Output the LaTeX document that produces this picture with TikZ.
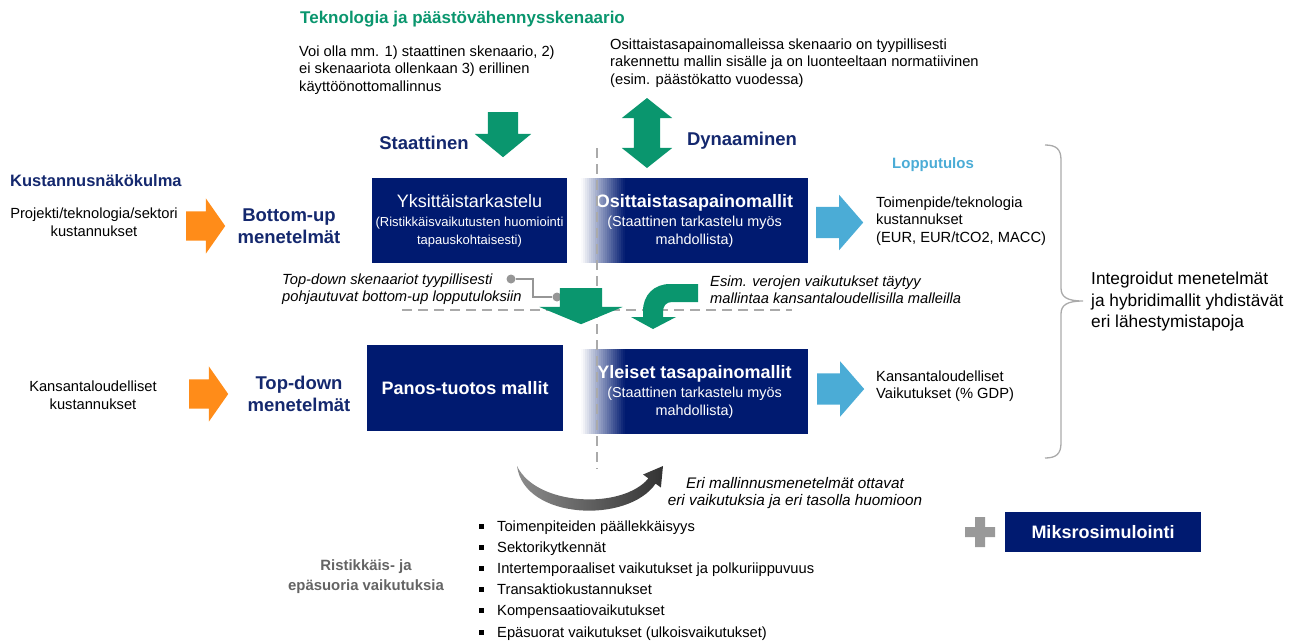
\documentclass[tikz,border=0pt]{standalone}
\usepackage{fontspec}
\setmainfont{Liberation Sans}
\usetikzlibrary{shapes.arrows}
\definecolor{navy}{RGB}{0,26,112}
\definecolor{tnavy}{RGB}{20,40,110}
\definecolor{sgreen}{RGB}{10,150,110}
\definecolor{sorange}{RGB}{255,140,25}
\definecolor{sblue}{RGB}{75,172,214}
\definecolor{dashgray}{RGB}{170,170,170}
\definecolor{knobgray}{RGB}{150,150,150}
\definecolor{txtgray}{RGB}{100,100,100}
\begin{document}
\begin{tikzpicture}[x=1pt,y=-1pt,inner sep=0pt,
  txt/.style={font=\fontsize{14.7}{17.6}\selectfont,align=left},
  ctxt/.style={font=\fontsize{14.7}{18.5}\selectfont,align=center},
  itxt/.style={font=\fontsize{14.7}{17}\selectfont\itshape,align=left},
  methodhead/.style={font=\fontsize{18.5}{22}\selectfont\bfseries,text=tnavy,align=center},
  mbox/.style={fill=navy,text=white,align=center,font=\fontsize{14.4}{17.5}\selectfont},
  fadebox/.style={mbox,path picture={\foreach \s in {0,...,21}{\pgfmathtruncatemacro\p{100*(\s+0.5)/22}
    \fill[navy!\p!white] ([xshift=2*\s pt]path picture bounding box.north west) rectangle ([xshift=2*\s pt+2.2pt]path picture bounding box.south west);}}},
  harrow/.style={single arrow,single arrow head indent=0pt,inner sep=0pt,anchor=tail},
  knob/.style={circle,fill=knobgray,minimum size=9pt},
  divider/.style={dashgray,line width=2pt,dash pattern=on 10pt off 6pt}
]
  \useasboundingbox (0,0) rectangle (1293,641);

  \node[font=\fontsize{17}{19}\selectfont\bfseries,text=sgreen,anchor=west] (tekno) at (300,19) {Teknologia ja päästövähennysskenaario};
  \node[txt,anchor=west] (staatsc) at (299,70) {Voi olla mm. 1) staattinen skenaario, 2)\\ei skenaariota ollenkaan 3) erillinen\\käyttöönottomallinnus};
  \node[txt,anchor=west] (dynsc) at (610,63) {Osittaistasapainomalleissa skenaario on tyypillisesti\\rakennettu mallin sisälle ja on luonteeltaan normatiivinen\\(esim. päästökatto vuodessa)};
  \node[methodhead] (staat) at (424,143) {Staattinen};
  \node[methodhead] (dyn) at (742,141) {Dynaaminen};

  \node[font=\fontsize{16.5}{19}\selectfont\bfseries,text=tnavy,anchor=west] (kustn) at (10,181) {Kustannusnäkökulma};
  \node[ctxt] (proj) at (94,222) {Projekti/teknologia/sektori\\kustannukset};
  \node[methodhead] (botup) at (289,226) {Bottom-up\\menetelmät};
  \node[ctxt] (kans) at (93,395) {Kansantaloudelliset\\kustannukset};
  \node[methodhead] (topdn) at (299,394) {Top-down\\menetelmät};

  \node[mbox,minimum width=195pt,minimum height=85pt] (yks) at (469.5,220.5)
    {\fontsize{18}{20}\selectfont Yksittäistarkastelu\\[2pt]\fontsize{13}{15}\selectfont(Ristikkäisvaikutusten huomiointi\\\fontsize{13}{15}\selectfont tapauskohtaisesti)};
  \node[fadebox,minimum width=227pt,minimum height=85pt] (osit) at (694.5,220.5)
    {\fontsize{18}{20}\selectfont\bfseries Osittaistasapainomallit\\[2pt](Staattinen tarkastelu myös\\mahdollista)};
  \node[mbox,minimum width=196pt,minimum height=86pt,font=\fontsize{18}{20}\selectfont\bfseries] (panos) at (465,388) {Panos-tuotos mallit};
  \node[fadebox,minimum width=227pt,minimum height=85pt] (yleis) at (694.5,391.5)
    {\fontsize{18}{20}\selectfont\bfseries Yleiset tasapainomallit\\[2pt](Staattinen tarkastelu myös\\mahdollista)};

  \draw[divider] (597,148) -- (597,469);
  \draw[divider] (402,310) -- (792,310);

  \node[harrow,fill=sgreen,rotate=-90,minimum height=45pt,inner ysep=15pt,single arrow head extend=13pt,single arrow tip angle=101] (gtop) at (503,112) {};
  \node[double arrow,double arrow head indent=0pt,inner sep=0pt,fill=sgreen,rotate=90,minimum height=70pt,inner ysep=13pt,double arrow head extend=12pt,double arrow tip angle=103] (gdbl) at (647,133) {};
  \node[harrow,fill=sorange,minimum height=39pt,inner ysep=14.5pt,single arrow head extend=13pt,single arrow tip angle=110] (oar1) at (186,226) {};
  \node[harrow,fill=sorange,minimum height=39pt,inner ysep=14.5pt,single arrow head extend=13pt,single arrow tip angle=110] (oar2) at (189,394) {};
  \node[harrow,fill=sblue,minimum height=47pt,inner ysep=15.5pt,single arrow head extend=12pt,single arrow tip angle=98] (bar1) at (816,222.5) {};
  \node[harrow,fill=sblue,minimum height=47pt,inner ysep=15.5pt,single arrow head extend=12pt,single arrow tip angle=98] (bar2) at (817,389) {};

  \node[font=\fontsize{15}{18}\selectfont\bfseries,text=sblue] (loppu) at (933,165) {Lopputulos};
  \node[txt,anchor=west] (toim) at (876,221) {Toimenpide/teknologia\\kustannukset\\(EUR, EUR/tCO2, MACC)};
  \node[txt,anchor=west] (kvaik) at (876,386) {Kansantaloudelliset\\Vaikutukset (\% GDP)};

  \node[itxt,anchor=west] (topsk) at (282,289) {Top-down skenaariot tyypillisesti\\pohjautuvat bottom-up lopputuloksiin};
  \node[knob] (k1) at (511,279) {};
  \node[knob] (k2) at (557,297) {};
  \coordinate (kbend) at (533,279);
  \draw[knobgray,line width=1.5pt] (k1) -- (kbend) |- (k2);
  \node[harrow,fill=sgreen,rotate=-90,minimum height=36pt,inner ysep=21pt,single arrow head extend=20.5pt,single arrow tip angle=135] (gmid) at (581,288) {};
  \fill[sgreen] (698,284) -- (670,284) .. controls (654,284) and (643,295) .. (643,311) -- (643,317) -- (631,317) -- (653,329)
    -- (676,317) -- (663,317) -- (663,312) .. controls (663,306) and (666,302) .. (672,302) -- (698,302) -- cycle;
  \node[itxt,anchor=west] (esim) at (710,290) {Esim. verojen vaikutukset täytyy\\mallintaa kansantaloudellisilla malleilla};

  \coordinate (brtip) at (1083,301);
  \draw[dashgray,line width=1.3pt] (1045,145) .. controls (1056,145) and (1061,149) .. (1061,160) -- (1061,288)
    .. controls (1061,297) and (1067,301) .. (brtip) .. controls (1067,301) and (1061,305) .. (1061,314)
    -- (1061,443) .. controls (1061,454) and (1056,458) .. (1045,458);
  \node[txt,anchor=west,font=\fontsize{17.3}{21.5}\selectfont] (integ) at (1091,302) {Integroidut menetelmät\\ja hybridimallit yhdistävät\\eri lähestymistapoja};

  \shade[left color=black!45,right color=black!80] (517,466) .. controls (524,520) and (628,524) .. (655.6,483.6) -- (660.9,487.5)
    -- (663,466) -- (643.1,474.5) -- (648.4,478.4) .. controls (622,510) and (536,506) .. (517,466) -- cycle;
  \node[itxt,align=center,font=\fontsize{15.3}{17.5}\selectfont\itshape] (erim) at (795,493) {Eri mallinnusmenetelmät ottavat\\eri vaikutuksia ja eri tasolla huomioon};

  \node[font=\fontsize{14.9}{20}\selectfont\bfseries,text=txtgray,align=center] (risk) at (366,577) {Ristikkäis- ja\\epäsuoria vaikutuksia};
  \foreach \t [count=\i from 0] in {Toimenpiteiden päällekkäisyys,Sektorikytkennät,Intertemporaaliset vaikutukset ja polkuriippuvuus,Transaktiokustannukset,Kompensaatiovaikutukset,Epäsuorat vaikutukset (ulkoisvaikutukset)}
  {
    \node[txt,anchor=base west] (vk\i) at (497,531+21.2*\i) {\t};
    \fill (478.5,523.5+21.2*\i) rectangle ++(5,5);
  }

  \fill[black!40] (965,527) rectangle (995,537) (975,517) rectangle (985,547);
  \node[mbox,minimum width=196pt,minimum height=40pt,font=\fontsize{18}{20}\selectfont\bfseries] (miks) at (1103,532) {Miksrosimulointi};
\end{tikzpicture}
\end{document}
